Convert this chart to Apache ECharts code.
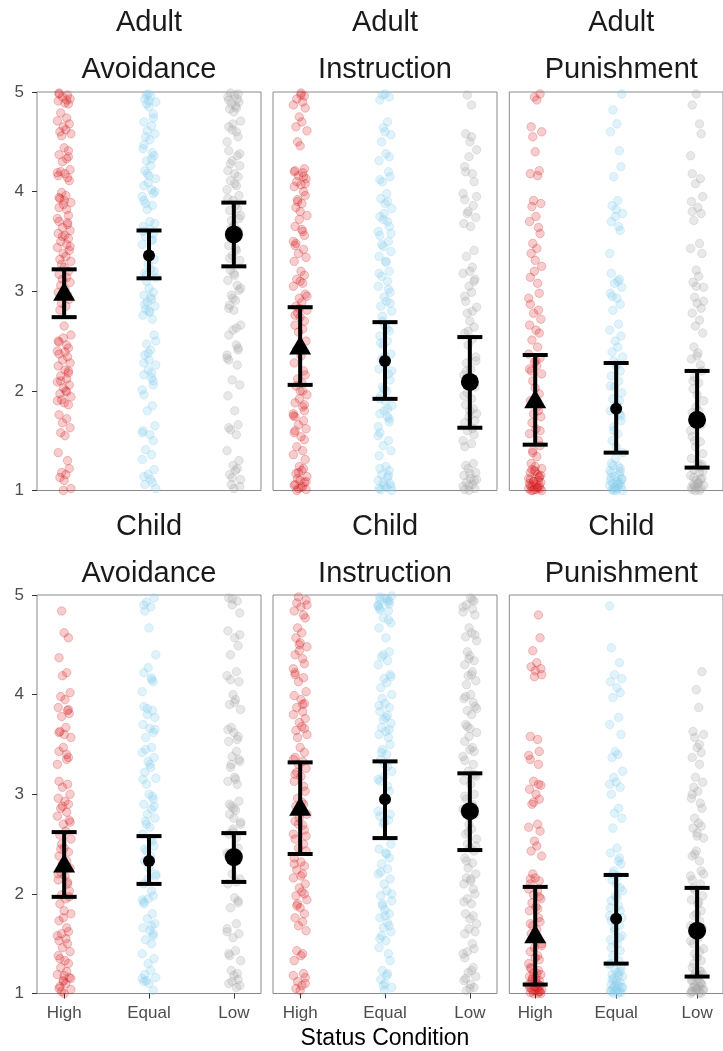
<!DOCTYPE html>
<html><head><meta charset="utf-8">
<script src="https://cdn.jsdelivr.net/npm/echarts@6/dist/echarts.min.js"></script>
<style>html,body{margin:0;padding:0;background:#fff}#c{width:723px;height:1051px}</style>
</head><body><div id="c"></div>
<script>
// ---------------- data ----------------
const categories = ['High', 'Equal', 'Low'];
const ageGroups = ['Adult', 'Child'];
const behaviours = ['Avoidance', 'Instruction', 'Punishment'];
const yTicks = [1, 2, 3, 4, 5];
const xAxisTitle = 'Status Condition';

// horizontal jitter offsets (category units)
const JITTER = [-0.06,0.04,-0.02,0.07,-0.07,0.01,0.05,-0.04,0.03,-0.08,0.06,-0.01,0.02,-0.05,0.08,-0.03,0.0,0.05,-0.06,0.03,-0.02,0.07,-0.04,0.01,-0.07,0.04,0.06,-0.03,0.02,-0.05,0.0,0.08,-0.01,-0.06,0.03,0.05,-0.08];

// Adult Avoidance
const AA_high = [4.99,4.97,4.95,4.93,4.91,4.89,4.88,4.79,4.74,4.71,4.68,4.65,4.62,4.6,4.58,4.56,4.44,4.41,4.37,4.33,4.3,4.22,4.2,4.18,4.16,4.14,4.11,3.99,3.96,3.93,3.91,3.89,3.87,3.84,3.82,3.76,3.73,3.7,3.67,3.64,3.61,3.58,3.56,3.53,3.5,3.47,3.44,3.41,3.38,3.35,3.32,3.3,3.27,3.24,3.2,3.17,3.14,3.12,3.09,3.06,3.02,2.99,2.96,2.92,2.88,2.85,2.81,2.65,2.56,2.53,2.49,2.46,2.43,2.4,2.37,2.34,2.31,2.28,2.25,2.21,2.18,2.15,2.12,2.09,2.06,2.03,2.0,1.97,1.94,1.91,1.88,1.86,1.76,1.72,1.68,1.63,1.58,1.55,1.38,1.3,1.22,1.18,1.16,1.13,1.1,1.02,1.0,4.98,4.92,4.35,4.19,3.94,3.69,3.55,3.45,2.5,2.39,2.2,2.1,1.99,1.9];
const AA_equal = [4.98,4.96,4.93,4.9,4.88,4.85,4.78,4.7,4.66,4.61,4.58,4.55,4.52,4.43,4.39,4.36,4.31,4.26,4.21,4.16,4.13,4.09,4.06,4.02,3.98,3.95,3.91,3.86,3.82,3.68,3.65,3.62,3.58,3.55,3.51,3.47,3.32,3.27,3.22,3.18,3.14,3.1,3.03,2.99,2.96,2.92,2.89,2.85,2.82,2.79,2.76,2.72,2.56,2.47,2.41,2.36,2.31,2.26,2.21,2.16,2.13,2.06,2.01,1.96,1.85,1.8,1.65,1.6,1.56,1.5,1.41,1.36,1.31,1.21,1.16,1.11,1.06,1.02,4.97,4.91,4.74,4.47,4.33,4.18,4.0,3.88,3.7,3.6,3.52,3.2,3.16,2.94,2.87,2.8,2.5,2.38,2.28,2.18,2.1,1.58,1.14,1.08];
const AA_low = [4.99,4.97,4.95,4.93,4.9,4.88,4.86,4.83,4.8,4.71,4.68,4.65,4.6,4.55,4.5,4.41,4.36,4.31,4.26,4.21,4.18,4.15,4.11,4.06,4.02,3.96,3.91,3.86,3.81,3.76,3.71,3.66,3.61,3.46,3.41,3.36,3.31,3.21,3.16,3.11,3.06,3.01,2.96,2.91,2.86,2.81,2.66,2.61,2.56,2.46,2.41,2.36,2.31,2.26,2.11,2.06,1.95,1.8,1.66,1.61,1.56,1.4,1.3,1.25,1.2,1.16,1.11,1.06,1.02,4.98,4.92,4.84,4.62,4.38,4.28,4.08,3.93,3.83,3.73,3.63,3.43,3.33,3.18,3.03,2.93,2.83,2.63,2.43,2.33,1.63,1.22,1.13,1.04];
// Adult Instruction
const AI_high = [4.99,4.96,4.93,4.9,4.87,4.84,4.75,4.7,4.65,4.61,4.5,4.46,4.23,4.21,4.19,4.16,4.13,4.1,4.07,4.05,4.0,3.96,3.92,3.88,3.84,3.8,3.76,3.72,3.65,3.6,3.56,3.5,3.46,3.42,3.38,3.34,3.3,3.2,3.16,3.12,3.08,3.05,2.97,2.93,2.89,2.85,2.81,2.78,2.74,2.7,2.66,2.62,2.59,2.5,2.42,2.35,2.28,2.2,2.16,2.12,2.08,2.05,2.0,1.96,1.92,1.88,1.84,1.8,1.77,1.74,1.7,1.66,1.62,1.58,1.54,1.51,1.44,1.4,1.36,1.31,1.24,1.2,1.17,1.14,1.12,1.1,1.08,1.06,1.04,1.02,1.01,1.0,4.97,4.2,4.15,4.08,3.9,3.62,3.48,3.1,2.95,2.83,2.76,2.0,1.86,1.75,1.6,1.22,1.18,1.09,1.05,1.03];
const AI_equal = [4.98,4.95,4.92,4.7,4.64,4.57,4.5,4.38,4.31,4.2,4.15,4.1,3.98,3.93,3.88,3.83,3.78,3.75,3.7,3.65,3.6,3.56,3.5,3.45,3.4,3.35,3.29,3.2,3.15,3.1,3.05,2.99,2.94,2.9,2.85,2.8,2.7,2.65,2.6,2.55,2.5,2.46,2.37,2.32,2.27,2.22,2.17,2.11,2.04,2.0,1.95,1.9,1.85,1.8,1.77,1.74,1.69,1.64,1.58,1.5,1.45,1.4,1.35,1.24,1.2,1.16,1.13,1.1,1.07,1.05,1.03,1.01,1.0,4.97,4.6,4.35,4.12,3.9,3.72,3.58,3.47,3.3,3.18,3.02,2.88,2.75,2.62,2.48,2.35,2.2,2.02,1.92,1.82,1.72,1.55,1.22,1.15,1.08,1.04,1.02];
const AI_low = [4.97,4.87,4.58,4.5,4.42,4.35,4.25,4.18,4.1,3.98,3.92,3.86,3.8,3.74,3.68,3.65,3.41,3.35,3.24,3.18,3.12,3.05,2.99,2.9,2.84,2.78,2.7,2.64,2.58,2.52,2.46,2.34,2.28,2.22,2.16,2.1,2.04,1.98,1.92,1.86,1.8,1.77,1.74,1.68,1.62,1.56,1.5,1.44,1.27,1.22,1.18,1.15,1.12,1.1,1.08,1.06,1.04,1.02,1.0,4.55,4.2,3.95,3.78,3.2,3.1,2.95,2.8,2.6,2.3,2.2,2.06,1.95,1.82,1.7,1.6,1.47,1.25,1.17,1.11,1.05,1.01];
// Adult Punishment
const AP_high = [4.98,4.95,4.92,4.65,4.6,4.55,4.4,4.21,4.18,4.16,3.91,3.88,3.85,3.75,3.7,3.64,3.58,3.48,3.43,3.38,3.31,3.25,3.2,3.14,3.08,2.98,2.93,2.87,2.81,2.78,2.72,2.66,2.61,2.58,2.51,2.44,2.37,2.33,2.29,2.25,2.2,2.17,2.1,2.03,1.97,1.9,1.84,1.77,1.74,1.68,1.62,1.57,1.5,1.45,1.4,1.34,1.27,1.24,1.22,1.2,1.18,1.16,1.14,1.12,1.11,1.1,1.09,1.08,1.07,1.06,1.05,1.04,1.03,1.02,1.02,1.01,1.01,1.0,1.0,1.0,1.19,1.13,1.05,1.03,1.09,1.15,1.21,2.3,2.22,1.8,1.6,1.38];
const AP_equal = [4.98,4.82,4.68,4.6,4.41,4.25,4.15,3.91,3.86,3.82,3.78,3.75,3.7,3.65,3.61,3.38,3.18,3.12,3.08,3.04,2.98,2.93,2.87,2.81,2.67,2.61,2.55,2.5,2.44,2.39,2.34,2.3,2.25,2.2,2.15,2.1,2.04,1.98,1.92,1.86,1.8,1.77,1.7,1.64,1.57,1.5,1.44,1.38,1.32,1.27,1.24,1.22,1.2,1.18,1.16,1.14,1.12,1.1,1.09,1.08,1.07,1.06,1.05,1.04,1.03,1.02,1.01,1.0,1.0,1.0,1.19,1.13,1.07,1.03,1.11,1.25,2.27,2.05,1.9,1.75,1.6,3.1,2.95];
const AP_low = [4.98,4.87,4.68,4.58,4.36,4.18,4.13,4.08,3.95,3.9,3.84,3.78,3.71,3.48,3.43,3.38,3.21,3.15,3.09,3.04,2.94,2.88,2.83,2.78,2.71,2.65,2.58,2.44,2.38,2.32,2.26,2.2,2.14,2.08,2.02,1.96,1.9,1.84,1.78,1.72,1.66,1.6,1.54,1.49,1.44,1.37,1.32,1.28,1.24,1.21,1.18,1.15,1.12,1.1,1.08,1.06,1.05,1.04,1.03,1.02,1.01,1.0,1.0,1.19,1.13,1.07,1.03,1.11,1.26,1.5,1.8,2.1,2.35,2.9,3.05,3.8];
// Child Avoidance
const CA_high = [4.84,4.62,4.57,4.37,4.22,4.19,4.02,3.98,3.95,3.87,3.84,3.81,3.78,3.67,3.63,3.6,3.57,3.47,3.43,3.4,3.37,3.3,3.13,3.1,3.07,3.0,2.96,2.93,2.9,2.86,2.82,2.78,2.74,2.7,2.63,2.59,2.55,2.5,2.46,2.42,2.38,2.33,2.3,2.26,2.22,2.18,2.14,2.1,2.03,1.99,1.95,1.9,1.83,1.8,1.76,1.73,1.66,1.62,1.58,1.53,1.5,1.46,1.42,1.38,1.33,1.3,1.26,1.22,1.19,1.16,1.13,1.1,1.07,1.04,1.02,1.0,3.85,3.62,3.35,2.88,2.72,2.45,2.28,2.2,2.12,1.97,1.6,1.55,1.35,1.18,1.15,1.12,1.05];
const CA_equal = [4.97,4.93,4.88,4.84,4.67,4.4,4.27,4.22,4.17,4.13,4.03,3.88,3.84,3.8,3.77,3.7,3.66,3.62,3.57,3.47,3.42,3.37,3.33,3.27,3.22,3.16,3.1,3.0,2.95,2.9,2.85,2.8,2.76,2.73,2.67,2.6,2.53,2.48,2.43,2.38,2.33,2.26,2.2,2.15,2.1,2.03,1.98,1.94,1.9,1.8,1.75,1.7,1.66,1.63,1.58,1.54,1.5,1.4,1.35,1.3,1.23,1.19,1.16,1.13,1.1,1.03,4.9,4.15,3.86,3.65,3.45,3.3,3.15,2.98,2.88,2.7,2.55,2.45,2.35,2.18,1.95,1.92,1.68,1.6,1.15,1.12];
const CA_low = [4.97,4.94,4.9,4.82,4.64,4.57,4.49,4.4,4.23,4.19,4.13,4.0,3.95,3.9,3.85,3.67,3.62,3.58,3.53,3.43,3.38,3.33,3.27,3.17,3.13,3.1,2.93,2.88,2.84,2.8,2.76,2.7,2.65,2.6,2.56,2.46,2.41,2.37,2.33,2.2,2.15,2.1,1.96,1.91,1.86,1.7,1.65,1.6,1.56,1.43,1.38,1.33,1.23,1.18,1.14,1.1,1.06,4.96,4.6,4.15,3.92,3.65,3.55,3.35,3.3,3.15,2.9,2.86,2.72,2.62,2.4,2.12,1.93,1.62,1.4,1.2,1.12,1.08];
// Child Instruction
const CI_high = [4.98,4.95,4.92,4.88,4.84,4.8,4.77,4.67,4.62,4.57,4.52,4.48,4.44,4.4,4.36,4.31,4.26,4.22,4.17,4.13,4.03,3.99,3.95,3.91,3.87,3.83,3.8,3.76,3.72,3.68,3.64,3.6,3.57,3.47,3.42,3.37,3.33,3.3,3.26,3.22,3.18,3.13,3.08,3.03,2.96,2.92,2.88,2.84,2.8,2.76,2.73,2.69,2.64,2.6,2.55,2.5,2.46,2.43,2.36,2.32,2.28,2.24,2.2,2.16,2.1,2.06,2.02,1.98,1.94,1.9,1.86,1.8,1.76,1.72,1.68,1.63,1.43,1.38,1.33,1.2,1.16,1.12,1.08,1.05,1.03,4.9,4.5,4.2,3.9,3.66,3.35,3.2,2.9,2.7,2.58,2.3,2.18,2.0,1.88,1.4,1.18,1.1];
const CI_equal = [4.99,4.97,4.95,4.93,4.91,4.89,4.87,4.84,4.77,4.72,4.67,4.57,4.43,4.38,4.34,4.3,4.2,4.16,4.12,4.07,4.0,3.96,3.91,3.87,3.83,3.79,3.75,3.71,3.67,3.63,3.6,3.57,3.5,3.45,3.4,3.35,3.3,3.23,3.18,3.13,3.08,3.03,2.83,2.78,2.74,2.7,2.5,2.45,2.41,2.36,2.3,2.25,2.2,2.15,2.1,2.03,1.98,1.93,1.88,1.84,1.8,1.76,1.71,1.66,1.62,1.58,1.53,1.46,1.4,1.33,1.23,1.18,1.14,1.1,1.06,1.03,4.98,4.96,4.94,4.9,4.85,4.75,4.4,4.18,3.89,3.77,3.65,3.42,3.28,3.15,2.8,2.72,2.4,2.22,2.0,1.9,1.78,1.68,1.55,1.2,1.08];
const CI_low = [4.97,4.94,4.9,4.86,4.83,4.8,4.67,4.62,4.58,4.54,4.43,4.39,4.34,4.3,4.23,4.19,4.14,4.1,4.0,3.96,3.92,3.88,3.84,3.8,3.7,3.66,3.62,3.58,3.53,3.47,3.43,3.38,3.34,3.3,3.23,3.18,3.14,3.1,3.0,2.95,2.9,2.85,2.8,2.7,2.65,2.6,2.55,2.5,2.46,2.43,2.36,2.31,2.26,2.2,2.16,2.13,2.1,2.05,2.0,1.95,1.9,1.8,1.75,1.7,1.65,1.6,1.5,1.45,1.4,1.36,1.26,1.21,1.17,1.13,1.09,1.06,1.03,4.95,4.88,4.6,4.36,4.2,3.98,3.86,3.68,3.45,3.2,2.98,2.88,2.62,2.48,2.33,2.15,1.92,1.78,1.62,1.42,1.23,1.15,1.05];
// Child Punishment
const CP_high = [4.8,4.57,4.44,4.32,4.28,4.24,4.2,4.18,3.58,3.55,3.43,3.39,3.35,3.3,3.13,3.09,3.05,3.0,2.95,2.9,2.7,2.67,2.63,2.53,2.48,2.43,2.38,2.2,2.16,2.13,2.1,2.03,1.99,1.95,1.91,1.87,1.83,1.76,1.72,1.68,1.64,1.6,1.56,1.5,1.46,1.42,1.38,1.34,1.3,1.26,1.23,1.21,1.19,1.17,1.15,1.13,1.12,1.1,1.09,1.08,1.07,1.06,1.05,1.04,1.03,1.03,1.02,1.01,1.0,1.0,1.0,1.14,1.11,1.06,1.04,1.02,1.16,1.2,1.25,1.36,1.48,1.58,1.7,1.85,1.97,2.05,2.15,3.1,2.92,4.26];
const CP_equal = [4.89,4.47,4.32,4.2,4.16,4.13,4.07,4.02,3.97,3.77,3.7,3.6,3.43,3.4,3.37,3.23,3.17,3.12,3.07,3.0,2.86,2.81,2.76,2.66,2.46,2.41,2.36,2.3,2.23,2.18,2.14,2.1,2.03,1.98,1.93,1.88,1.83,1.78,1.73,1.68,1.63,1.58,1.54,1.5,1.43,1.38,1.33,1.29,1.26,1.23,1.21,1.19,1.17,1.15,1.13,1.11,1.09,1.08,1.07,1.06,1.05,1.04,1.03,1.02,1.01,1.0,1.0,1.14,1.1,1.06,1.03,1.02,1.18,1.22,1.3,1.46,1.56,1.66,1.76,1.86,1.96,2.06,2.2,2.33,3.1];
const CP_low = [4.23,4.05,3.87,3.63,3.6,3.57,3.47,3.42,3.37,3.3,3.17,3.12,3.07,3.03,2.96,2.91,2.86,2.76,2.71,2.66,2.61,2.56,2.43,2.38,2.33,2.23,2.18,2.14,2.1,2.03,1.98,1.94,1.9,1.83,1.78,1.73,1.68,1.64,1.6,1.56,1.5,1.45,1.4,1.36,1.33,1.26,1.23,1.21,1.19,1.17,1.15,1.13,1.11,1.09,1.08,1.07,1.06,1.05,1.04,1.03,1.02,1.01,1.0,1.0,1.14,1.1,1.06,1.03,1.02,1.18,1.22,1.3,1.42,1.53,1.66,1.8,1.92,2.06,2.2,2.4,2.58,2.68,3.0,3.5];

// condition means and error-bar limits [High, Equal, Low]
const MEAN_AA = [3.00, 3.36, 3.57], LOW_AA = [2.74, 3.13, 3.25], UP_AA = [3.22, 3.61, 3.89];
const MEAN_AI = [2.46, 2.30, 2.09], LOW_AI = [2.06, 1.92, 1.63], UP_AI = [2.84, 2.69, 2.54];
const MEAN_AP = [1.92, 1.82, 1.71], LOW_AP = [1.46, 1.38, 1.23], UP_AP = [2.36, 2.28, 2.20];
const MEAN_CA = [2.31, 2.33, 2.37], LOW_CA = [1.97, 2.10, 2.12], UP_CA = [2.62, 2.58, 2.61];
const MEAN_CI = [2.88, 2.95, 2.83], LOW_CI = [2.40, 2.56, 2.44], UP_CI = [3.32, 3.33, 3.21];
const MEAN_CP = [1.60, 1.75, 1.63], LOW_CP = [1.09, 1.30, 1.17], UP_CP = [2.07, 2.19, 2.06];

// ---------------- build ----------------
const panels = [
  {row:0,col:0,pts:[AA_high,AA_equal,AA_low],mean:MEAN_AA,lo:LOW_AA,up:UP_AA},
  {row:0,col:1,pts:[AI_high,AI_equal,AI_low],mean:MEAN_AI,lo:LOW_AI,up:UP_AI},
  {row:0,col:2,pts:[AP_high,AP_equal,AP_low],mean:MEAN_AP,lo:LOW_AP,up:UP_AP},
  {row:1,col:0,pts:[CA_high,CA_equal,CA_low],mean:MEAN_CA,lo:LOW_CA,up:UP_CA},
  {row:1,col:1,pts:[CI_high,CI_equal,CI_low],mean:MEAN_CI,lo:LOW_CI,up:UP_CI},
  {row:1,col:2,pts:[CP_high,CP_equal,CP_low],mean:MEAN_CP,lo:LOW_CP,up:UP_CP}
];

const FONT = '"Liberation Sans", Arial, sans-serif';
const colLeft = [37, 273, 509.3];
const rowTop = [92, 595];
const panelW = 224, panelH = 398.5;
const pointFill = ['rgba(215,25,28,0.22)', 'rgba(135,206,235,0.26)', 'rgba(165,165,165,0.25)'];
const pointLine = ['rgba(215,25,28,0.30)', 'rgba(135,206,235,0.34)', 'rgba(165,165,165,0.32)'];
const meanSymbol = ['triangle', 'circle', 'circle'];
const meanSize = [[22, 19], 12, 18];

const grid = [], xAxis = [], yAxis = [], series = [], graphic = [];
panels.forEach((p, k) => {
  grid.push({left: colLeft[p.col], top: rowTop[p.row], width: panelW, height: panelH,
    show: true, borderColor: '#8a8a8a', borderWidth: 1, backgroundColor: 'transparent', containLabel: false});
  const bottomRow = p.row === 1, leftCol = p.col === 0;
  xAxis.push({type: 'value', gridIndex: k, min: 0.68, max: 3.32,
    axisLine: {show: false}, splitLine: {show: false},
    axisTick: {show: bottomRow, length: 5, lineStyle: {color: '#333', width: 1}, customValues: [1, 2, 3]},
    axisLabel: {show: bottomRow, customValues: [1, 2, 3], margin: 11, fontSize: 17, color: '#4d4d4d', fontFamily: FONT,
      formatter: v => categories[Math.round(v) - 1] || ''}});
  yAxis.push({type: 'value', gridIndex: k, min: yTicks[0], max: yTicks[yTicks.length - 1], interval: 1,
    axisLine: {show: false}, splitLine: {show: false},
    axisTick: {show: leftCol, length: 5, lineStyle: {color: '#333', width: 1}},
    axisLabel: {show: leftCol, margin: 13, fontSize: 17, color: '#4d4d4d', fontFamily: FONT}});
  p.pts.forEach((arr, ci) => {
    series.push({type: 'scatter', xAxisIndex: k, yAxisIndex: k, symbol: 'circle', symbolSize: 8.5,
      itemStyle: {color: pointFill[ci], borderColor: pointLine[ci], borderWidth: 0.8, opacity: 1},
      data: arr.map((y, i) => [ci + 1 + JITTER[(i + ci * 11 + k * 5) % JITTER.length], y]),
      silent: true, z: 2});
  });
  series.push({type: 'custom', xAxisIndex: k, yAxisIndex: k, z: 3, silent: true,
    data: categories.map((c, ci) => [ci + 1, p.lo[ci], p.up[ci]]),
    renderItem: (params, api) => {
      const x = api.value(0);
      const a = api.coord([x, api.value(1)]), b = api.coord([x, api.value(2)]);
      const hw = 12.5, st = {stroke: '#000', lineWidth: 4};
      return {type: 'group', children: [
        {type: 'line', shape: {x1: a[0], y1: a[1], x2: b[0], y2: b[1]}, style: st},
        {type: 'line', shape: {x1: a[0] - hw, y1: a[1], x2: a[0] + hw, y2: a[1]}, style: st},
        {type: 'line', shape: {x1: b[0] - hw, y1: b[1], x2: b[0] + hw, y2: b[1]}, style: st}
      ]};
    }});
  series.push({type: 'scatter', xAxisIndex: k, yAxisIndex: k, z: 4, silent: true,
    itemStyle: {color: '#000', opacity: 1},
    data: categories.map((c, ci) => ({value: [ci + 1, p.mean[ci]], symbol: meanSymbol[ci], symbolSize: meanSize[ci]}))});
  // facet strip text
  const cx = colLeft[p.col] + panelW / 2;
  const y0 = p.row === 0 ? 23 : 526.5;
  graphic.push({type: 'text', x: cx, y: y0, silent: true,
    style: {text: ageGroups[p.row], fontSize: 29, fontFamily: FONT, fill: '#1a1a1a', align: 'center', verticalAlign: 'middle'}});
  graphic.push({type: 'text', x: cx, y: y0 + 47, silent: true,
    style: {text: behaviours[p.col], fontSize: 29, fontFamily: FONT, fill: '#1a1a1a', align: 'center', verticalAlign: 'middle'}});
});
graphic.push({type: 'text', x: colLeft[1] + panelW / 2, y: 1038.5, silent: true,
  style: {text: xAxisTitle, fontSize: 23, fontFamily: FONT, fill: '#000', align: 'center', verticalAlign: 'middle'}});

const chart = echarts.init(document.getElementById('c'), null, {renderer: 'canvas'});
chart.setOption({animation: false, backgroundColor: '#fff', grid, xAxis, yAxis, series, graphic});
</script></body></html>
